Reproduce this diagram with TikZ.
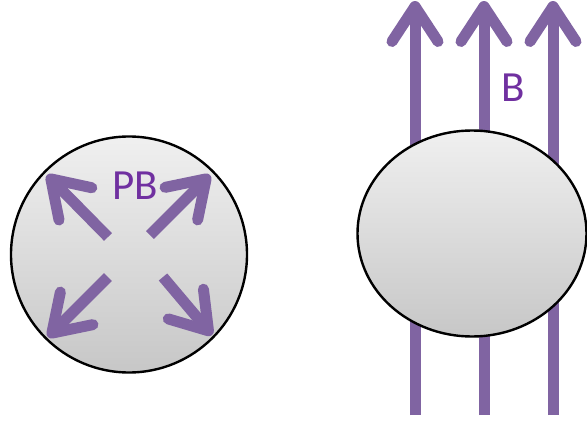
\documentclass[tikz,border=0pt]{standalone}
\usepackage{fontspec}
\setmainfont{Carlito}
\usetikzlibrary{arrows.meta,shapes.geometric}
\definecolor{arrowpurple}{HTML}{8064A2}
\definecolor{textpurple}{HTML}{7030A0}
\begin{document}
\begin{tikzpicture}[x=1pt,y=-1pt,
  fieldarrow/.style={draw=arrowpurple, line width=11pt,
    -{Straight Barb[length=35pt,width=46pt,round]}},
  ball/.style={draw=black, line width=2.4pt, top color=black!6, bottom color=black!22},
  lab/.style={text=textpurple, font=\fontsize{43}{43}\selectfont, inner sep=0pt}]
\useasboundingbox[fill=white] (0,0) rectangle (587,423);

% field lines (behind the ellipse)
\coordinate (f1s) at (415,415); \coordinate (f1e) at (415,1);
\coordinate (f2s) at (484,415); \coordinate (f2e) at (484,1);
\coordinate (f3s) at (553,415); \coordinate (f3e) at (553,1);
\draw[fieldarrow] (f1s) -- (f1e);
\draw[fieldarrow] (f2s) -- (f2e);
\draw[fieldarrow] (f3s) -- (f3e);

% right ball
\node[ball, ellipse, minimum width=229pt, minimum height=206pt] (ball2) at (472,233.5) {};
\node[lab] (blab) at (513,87.5) {B};

% left ball
\node[ball, circle, minimum size=236pt] (ball1) at (129,254.5) {};
\coordinate (ult) at (108,237); \coordinate (ulh) at (47,175);
\coordinate (urt) at (150,235); \coordinate (urh) at (210,175);
\coordinate (llt) at (108,277); \coordinate (llh) at (48,337);
\coordinate (lrt) at (163,277); \coordinate (lrh) at (212,335);
\draw[fieldarrow] (ult) -- (ulh);
\draw[fieldarrow] (urt) -- (urh);
\draw[fieldarrow] (llt) -- (llh);
\draw[fieldarrow] (lrt) -- (lrh);
\node[lab] (pblab) at (135.5,185.5) {PB};
\end{tikzpicture}
\end{document}
